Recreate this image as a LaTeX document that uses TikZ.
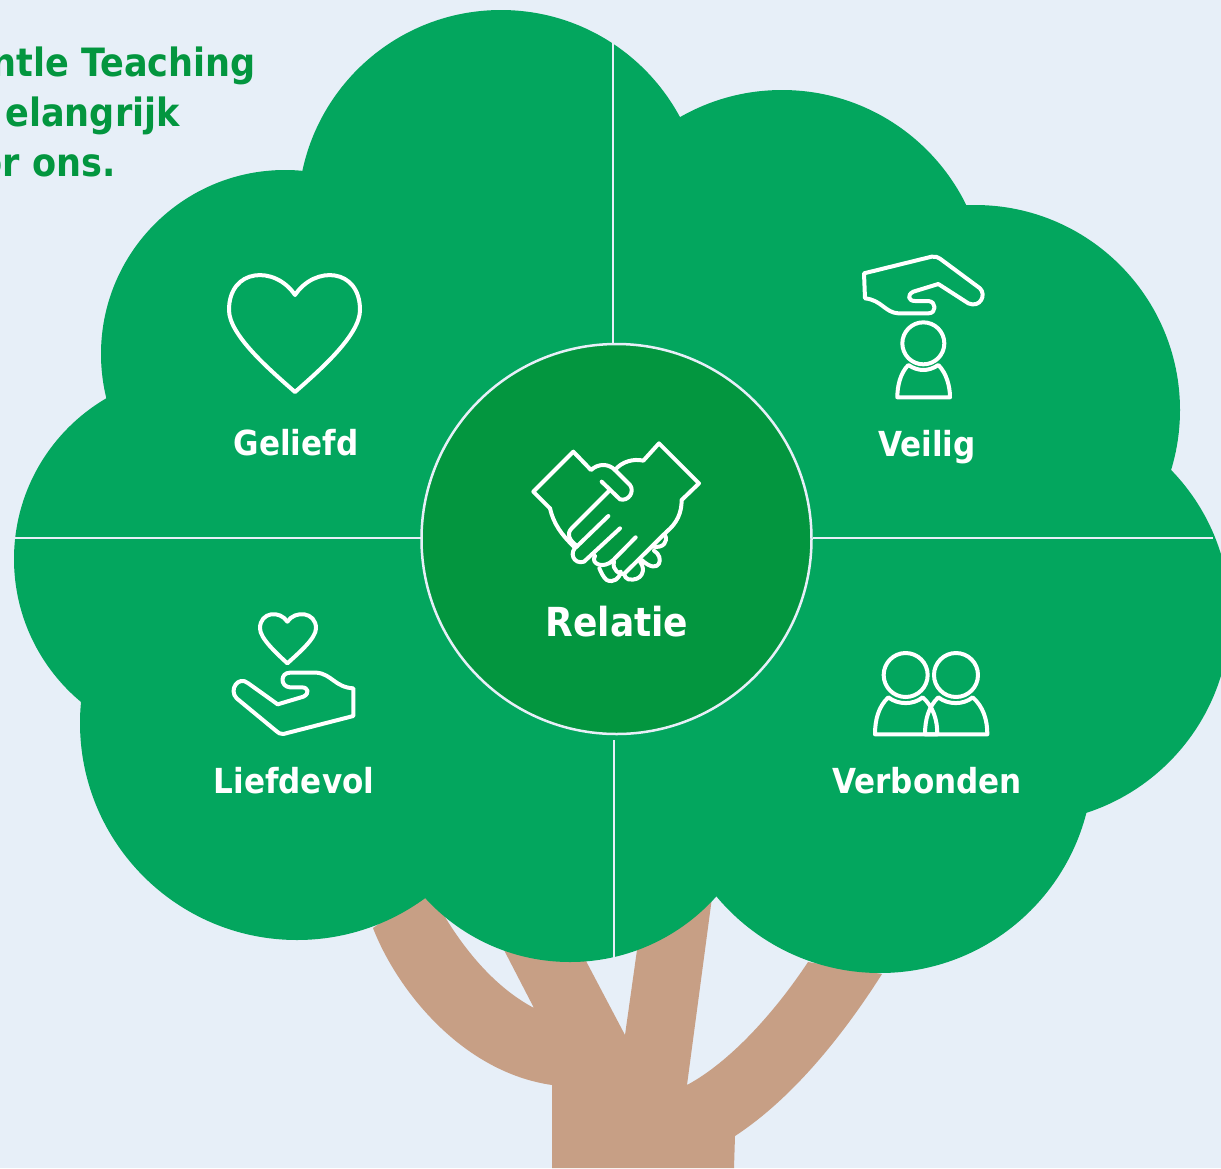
\documentclass[tikz,border=0pt]{standalone}
\usepackage{fontspec}
\newfontfamily\lab[FakeStretch=0.9]{DejaVu Sans Bold}
\definecolor{bgc}{HTML}{E7EFF8}
\definecolor{crown}{HTML}{03A65E}
\definecolor{core}{HTML}{03963F}
\definecolor{trunk}{HTML}{C79F85}
\tikzset{
  iconline/.style={draw=white,line width=4pt,line join=round,line cap=round},
  rule/.style={draw=bgc,line width=2pt},
  leaf/.style={fill=crown,draw=none},
  tag/.style={text=white,font=\lab\fontsize{34.5}{34.5}\selectfont,anchor=base},
  bigtag/.style={text=white,font=\lab\fontsize{40}{40}\selectfont,anchor=base},
  head/.style={text=core,font=\lab\fontsize{39}{39}\selectfont,anchor=base east,inner sep=0pt}
}
\begin{document}
\begin{tikzpicture}[x=1pt,y=-1pt]
\useasboundingbox (0,0) rectangle (1221,1168);
\fill[bgc] (0,0) rectangle (1221,1168);
\begin{scope}
\clip (0,0) rectangle (1221,1168);
% trunk
\fill[trunk] (552,1168) -- (552,1085) .. controls (462,1072) and (397,990) .. (373,928)
  -- (427,890) -- (445,917) .. controls (470,958) and (500,990) .. (534,1008)
  -- (504,950) -- (586,961) -- (625,1035) -- (637,950) -- (713,890)
  -- (687,1085) .. controls (730,1062) and (775,1012) .. (808,962)
  -- (882,974) .. controls (840,1040) and (790,1100) .. (735,1136) -- (734,1168) -- cycle;
% crown
\fill[leaf] (501,213) circle[radius=203];
\fill[leaf] (782,295) circle[radius=205];
\fill[leaf] (975,410) circle[radius=205];
\fill[leaf] (1022,615) circle[radius=208];
\fill[leaf] (880,760) circle[radius=213];
\fill[leaf] (570,766) circle[radius=196];
\fill[leaf] (297,723) circle[radius=217];
\fill[leaf] (200,559) circle[radius=186];
\fill[leaf] (285,354) circle[radius=184];
\fill[leaf] (501,213) -- (782,295) -- (975,410) -- (1022,615) -- (880,760) -- (570,766) -- (297,723) -- (200,559) -- (285,354) -- cycle;
\end{scope}
% dividing lines
\coordinate (ntop) at (613,42);
\coordinate (nbot) at (613,343);
\coordinate (sbot) at (614,958);
\coordinate (stop) at (614,740);
\coordinate (wl) at (14,538);
\coordinate (wr) at (421,538);
\coordinate (el) at (813,538);
\coordinate (er) at (1213,538);
\draw[rule] (ntop) -- (nbot);
\draw[rule] (stop) -- (sbot);
\draw[rule] (wl) -- (wr);
\draw[rule] (el) -- (er);
\fill[core] (616.5,539) circle[radius=195];
\draw[bgc,line width=2.5pt] (616.5,539) circle[radius=195];
% labels
\node[head] (t1) at (256,76) {ntle Teaching};
\node[head] (t2) at (180,126) {elangrijk};
\node[head] (t3) at (116,176) {or ons.};
\node[tag] (geliefd) at (296,455) {Geliefd};
\node[tag] (veilig) at (927,456) {Veilig};
\node[tag] (liefdevol) at (294,793) {Liefdevol};
\node[tag] (verbonden) at (927,793) {Verbonden};
\node[bigtag] (relatie) at (617,636) {Relatie};
% big heart
\draw[iconline] (295,295) .. controls (275,265) and (229,268) .. (229,310) .. controls (229,335) and (270,370) .. (295,392) .. controls (320,370) and (360,335) .. (360,310) .. controls (360,268) and (315,265) .. (295,295) -- cycle;
% handshake
\begin{scope}[shift={(500,420)},x=.33333pt,y=-.33333pt]
\draw[iconline] (150,265) -- (100,215) -- (220,95) -- (273,150) .. controls (295,130) and (325,130) .. (345,150) -- (390,195) .. controls (405,215) and (385,245) .. (360,238) -- (305,185);
\draw[iconline] (150,265) .. controls (160,310) and (185,345) .. (222,380);
\draw[iconline] (325,215) -- (215,325) .. controls (200,340) and (205,360) .. (232,378);
\draw[iconline] (325,288) -- (232,378) .. controls (205,395) and (220,435) .. (252,425) -- (360,325);
\draw[iconline] (285,408) .. controls (270,430) and (310,450) .. (340,420) -- (407,352);
\draw[iconline] (342,425) .. controls (335,450) and (360,465) .. (372,462) -- (500,335);
\draw[iconline] (345,150) .. controls (365,125) and (400,115) .. (430,122) -- (477,70) -- (597,190) -- (545,240) .. controls (545,280) and (530,310) .. (500,335);
\draw[iconline] (495,345) .. controls (505,365) and (490,385) .. (460,380);
\draw[iconline] (462,392) .. controls (495,410) and (480,470) .. (425,420);
\draw[iconline] (420,425) .. controls (440,450) and (425,485) .. (385,478) .. controls (378,475) and (374,470) .. (372,462);
\draw[iconline] (362,455) .. controls (360,475) and (340,490) .. (320,480) .. controls (310,472) and (305,460) .. (298,445);
\end{scope}
% protected person
\begin{scope}[shift={(840,240)},x=.33333pt,y=-.33333pt]
\draw[iconline] (72,100) -- (275,50) .. controls (285,48) and (295,52) .. (300,56) -- (420,145) .. controls (440,165) and (420,205) .. (385,190) -- (295,132) -- (220,155) .. controls (200,165) and (205,183) .. (225,183) -- (265,183) .. controls (290,185) and (290,220) .. (265,220) -- (175,220) .. controls (135,218) and (125,180) .. (75,175) -- cycle;
\draw[iconline] (250,310) circle[radius=63];
\draw[iconline] (205,375) .. controls (235,395) and (265,395) .. (295,375) .. controls (320,400) and (330,440) .. (330,472) -- (172,472) .. controls (172,440) and (180,400) .. (205,375) -- cycle;
\end{scope}
% giving hand
\begin{scope}[shift={(210,600)},x=.33333pt,y=-.33333pt]
\draw[iconline] (232,65) .. controls (210,30) and (150,35) .. (150,85) .. controls (150,115) and (200,160) .. (232,190) .. controls (265,160) and (318,115) .. (318,85) .. controls (318,35) and (255,30) .. (232,65) -- cycle;
\draw[iconline] (430,265) -- (430,348) -- (220,402) .. controls (210,403) and (205,398) .. (200,394) -- (80,295) .. controls (55,270) and (85,225) .. (115,250) -- (203,313) -- (280,290) .. controls (300,280) and (295,262) .. (275,262) -- (240,262) .. controls (210,260) and (210,218) .. (240,218) -- (320,218) .. controls (365,222) and (375,262) .. (430,265) -- cycle;
\end{scope}
% two persons
\begin{scope}[shift={(850,640)},x=.33333pt,y=-.33333pt]
\draw[iconline] (167,105) circle[radius=66];
\draw[iconline] (318,105) circle[radius=66];
\draw[iconline] (115,172) .. controls (145,195) and (190,195) .. (218,172) .. controls (250,200) and (262,240) .. (262,283) -- (75,283) .. controls (75,240) and (85,200) .. (115,172) -- cycle;
\draw[iconline] (265,172) .. controls (295,195) and (340,195) .. (368,172) .. controls (400,200) and (412,240) .. (412,283) -- (225,283) .. controls (225,240) and (235,200) .. (265,172) -- cycle;
\end{scope}
\end{tikzpicture}
\end{document}
